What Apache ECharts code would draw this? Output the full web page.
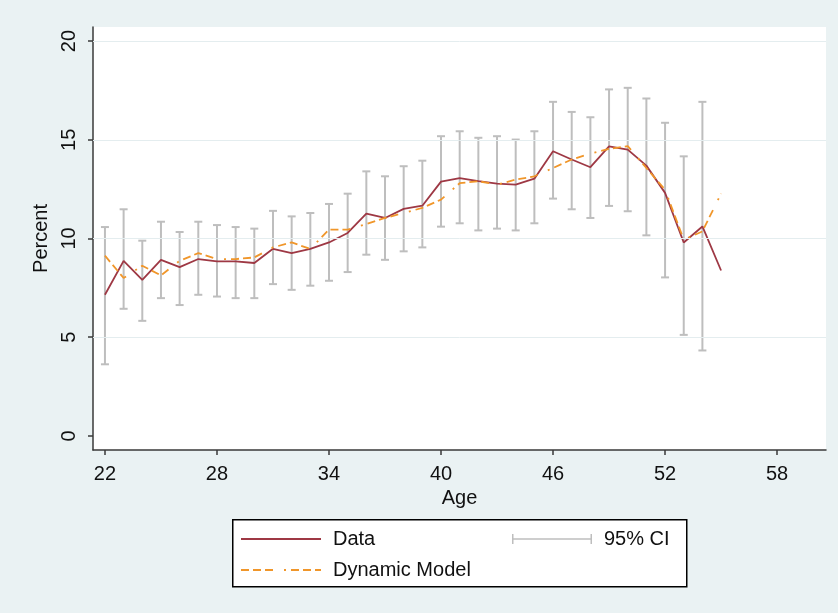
<!DOCTYPE html>
<html>
<head>
<meta charset="utf-8">
<title>Percent by Age</title>
<script src="https://cdn.jsdelivr.net/npm/echarts@6/dist/echarts.min.js"></script>
<style>
  html, body { margin: 0; padding: 0; background: #EAF2F3; }
  #chart { width: 838px; height: 613px; }
</style>
</head>
<body>
<div id="chart"></div>
<script>
  // ages on x axis
  var ages = [22,23,24,25,26,27,28,29,30,31,32,33,34,35,36,37,38,39,40,41,42,43,44,45,46,47,48,49,50,51,52,53,54,55];
  // observed percent
  var dataVals = [7.15,8.87,7.91,8.92,8.55,8.96,8.84,8.84,8.76,9.48,9.26,9.47,9.80,10.28,11.26,11.04,11.50,11.66,12.88,13.06,
                  12.90,12.78,12.73,13.03,14.42,14.00,13.61,14.67,14.50,13.69,12.31,9.80,10.61,8.38];
  // dynamic model fit
  var modelVals = [9.13,8.00,8.62,8.13,8.87,9.26,8.96,8.96,9.04,9.55,9.80,9.47,10.45,10.45,10.73,11.04,11.29,11.55,11.97,12.80,
                   12.90,12.73,12.98,13.15,13.57,14.00,14.30,14.54,14.68,13.57,12.47,9.94,10.36,12.27];
  // 95% CI (ages 22..54)
  var ciLow  = [3.63,6.44,5.83,6.98,6.63,7.15,7.06,6.98,6.98,7.69,7.40,7.61,7.86,8.30,9.18,8.92,9.35,9.55,10.60,10.77,
                10.41,10.50,10.41,10.77,12.02,11.48,11.04,11.65,11.38,10.16,8.03,5.12,4.33];
  var ciHigh = [10.58,11.48,9.89,10.85,10.33,10.85,10.68,10.58,10.50,11.40,11.12,11.29,11.75,12.27,13.40,13.15,13.66,13.94,15.18,15.43,
                15.10,15.18,15.01,15.43,16.92,16.41,16.14,17.55,17.63,17.09,15.86,14.16,16.92];
  var xTicks = [22,28,34,40,46,52,58];
  var yTicks = [0,5,10,15,20];

  var chart = echarts.init(document.getElementById('chart'));

  var dataPts = ages.map(function (a, i) { return [a, dataVals[i]]; });
  var modelPts = ages.map(function (a, i) { return [a, modelVals[i]]; });
  var ciPts = ciLow.map(function (lo, i) { return [ages[i], lo, ciHigh[i]]; });

  var ciColor = '#BEBEBE';
  var txt = '#111';
  var axisCol = '#3a3a3a';

  var option = {
    backgroundColor: '#EAF2F3',
    textStyle: { fontFamily: 'Liberation Sans, Arial, sans-serif' },
    animation: false,
    grid: {
      left: 93, right: 12, top: 27, bottom: 163,
      show: true, backgroundColor: '#fff', borderWidth: 0
    },
    xAxis: {
      type: 'value',
      min: 21.36, max: 60.62,
      name: 'Age', nameLocation: 'middle', nameGap: 34,
      nameTextStyle: { fontSize: 20, color: txt },
      axisLine: { show: true, onZero: false, lineStyle: { color: axisCol, width: 1.5 } },
      axisTick: { show: true, length: 5, customValues: xTicks, lineStyle: { color: axisCol, width: 1.5 } },
      axisLabel: { fontSize: 20, color: txt, margin: 14, customValues: xTicks },
      splitLine: { show: false }
    },
    yAxis: {
      type: 'value',
      min: -0.71, max: 20.71,
      name: 'Percent', nameLocation: 'middle', nameGap: 33,
      nameTextStyle: { fontSize: 20, color: txt },
      axisLine: { show: true, onZero: false, lineStyle: { color: axisCol, width: 1.5 } },
      axisTick: { show: true, length: 5, customValues: yTicks, lineStyle: { color: axisCol, width: 1.5 } },
      axisLabel: { fontSize: 20, color: txt, margin: 14, rotate: 90, customValues: yTicks },
      splitLine: { show: false }
    },
    legend: [
      {
        data: ['Data', 'Dynamic Model'],
        orient: 'vertical', left: 240, top: 529, padding: 0,
        itemWidth: 80, itemHeight: 10, itemGap: 11,
        itemStyle: { opacity: 0 },
        textStyle: { fontSize: 20, color: txt, padding: [0, 0, 0, 7] },
        selectedMode: false
      },
      {
        data: [{
          name: '95% CI',
          icon: 'path://M0,0h1.5v10h-1.5z M1.5,4.25h77v1.5h-77z M78.5,0h1.5v10h-1.5z',
          itemStyle: { color: ciColor }
        }],
        orient: 'vertical', left: 512, top: 529, padding: 0,
        itemWidth: 80, itemHeight: 10,
        textStyle: { fontSize: 20, color: txt, padding: [0, 0, 0, 7] },
        selectedMode: false
      }
    ],
    graphic: [{
      type: 'rect', left: 232, top: 519, z: -1,
      shape: { width: 454, height: 67 },
      style: { fill: '#fff', stroke: '#000', lineWidth: 1.5 }
    }],
    series: [
      {
        name: 'grid',
        type: 'line',
        data: [],
        z: 1,
        markLine: {
          silent: true, symbol: 'none', label: { show: false },
          lineStyle: { color: '#E4EDEF', width: 1, type: 'solid' },
          data: yTicks.slice(1).map(function (v) { return { yAxis: v }; })
        }
      },
      {
        name: '95% CI',
        type: 'custom',
        z: 2,
        itemStyle: { color: ciColor },
        encode: { x: 0, y: [1, 2] },
        data: ciPts,
        renderItem: function (params, api) {
          var x = api.value(0);
          var pLo = api.coord([x, api.value(1)]);
          var pHi = api.coord([x, api.value(2)]);
          var cap = 4;
          var st = { stroke: ciColor, lineWidth: 2 };
          return {
            type: 'group',
            children: [
              { type: 'line', shape: { x1: pLo[0], y1: pLo[1], x2: pHi[0], y2: pHi[1] }, style: st },
              { type: 'line', shape: { x1: pHi[0] - cap, y1: pHi[1], x2: pHi[0] + cap, y2: pHi[1] }, style: st },
              { type: 'line', shape: { x1: pLo[0] - cap, y1: pLo[1], x2: pLo[0] + cap, y2: pLo[1] }, style: st }
            ]
          };
        }
      },
      {
        name: 'Data',
        type: 'line',
        z: 3,
        data: dataPts,
        symbol: 'none',
        itemStyle: { color: '#9E3844' },
        lineStyle: { color: '#9E3844', width: 1.8 }
      },
      {
        name: 'Dynamic Model',
        type: 'line',
        z: 4,
        data: modelPts,
        symbol: 'none',
        itemStyle: { color: '#F0962A' },
        lineStyle: { color: '#F0962A', width: 1.8, type: [8, 4, 8, 4, 8, 11, 2, 5] }
      }
    ]
  };

  option && chart.setOption(option);
</script>
</body>
</html>
